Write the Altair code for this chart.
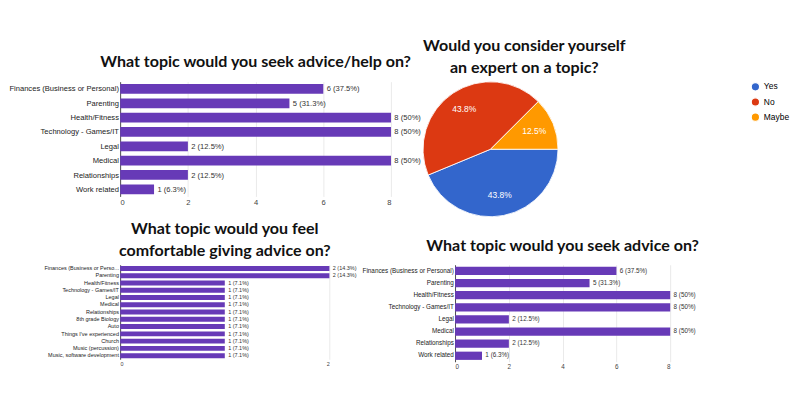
import altair as alt
import pandas as pd

purple = "#673AB7"
FONT = "Lato"

cat1 = ["Finances (Business or Personal)", "Parenting", "Health/Fitness", "Technology - Games/IT",
        "Legal", "Medical", "Relationships", "Work related"]
val1 = [6, 5, 8, 8, 2, 8, 2, 1]
pct1 = ["37.5%", "31.3%", "50%", "50%", "12.5%", "50%", "12.5%", "6.3%"]

cat2 = ["Finances (Business or Perso...", "Parenting", "Health/Fitness", "Technology - Games/IT", "Legal",
        "Medical", "Relationships", "8th grade Biology", "Auto", "Things I've experienced", "Church",
        "Music (percussion)", "Music, software development"]
val2 = [2, 2, 1, 1, 1, 1, 1, 1, 1, 1, 1, 1, 1]
pct2 = ["14.3%", "14.3%"] + ["7.1%"] * 11

pie_cat = ["Yes", "No", "Maybe"]
pie_val = [43.8, 43.8, 12.5]
pie_lbl = ["43.8%", "43.8%", "12.5%"]
pie_col = ["#3366CC", "#DC3912", "#FF9900"]


def bars(cats, vals, pcts, w, h, title, fs, ticks, xmax, tfs, offset=8):
    df = pd.DataFrame({"cat": cats, "v": vals,
                       "lab": [f"{v} ({p})" for v, p in zip(vals, pcts)]})
    base = alt.Chart(df).encode(
        y=alt.Y("cat:N", sort=cats, title=None,
                axis=alt.Axis(labelFontSize=fs, labelColor="#222", ticks=False, domain=True,
                              domainColor="#333", labelLimit=200, labelFont="Liberation Sans")),
        x=alt.X("v:Q", title=None, scale=alt.Scale(domain=[0, xmax]),
                axis=alt.Axis(values=ticks, format="d", labelFontSize=fs, labelColor="#444", grid=True,
                              gridColor="#e6e6e6", domain=False, ticks=False,
                              labelFont="Liberation Sans")))
    b = base.mark_bar(color=purple, size=h / len(cats) * 0.68)
    t = base.mark_text(align="left", dx=4, fontSize=fs, color="#333",
                       font="Liberation Sans").encode(text="lab:N")
    return (b + t).properties(width=w, height=h, title=alt.TitleParams(
        title, fontSize=tfs, font=FONT, fontWeight="bold", color="#111", anchor="middle", offset=offset))


c1 = bars(cat1, val1, pct1, 321, 136, "What topic would you seek advice/help on?", 9, [0, 2, 4, 6, 8], 8, 19, 14)
c3 = bars(cat2, val2, pct2, 248, 112, ["What topic would you feel", "comfortable giving advice on?"], 6.5, [0, 1, 2], 2, 19, 6)
c4 = bars(cat1, val1, pct1, 255, 115, "What topic would you seek advice on?", 7.5, [0, 2, 4, 6, 8], 8, 19, 12)

pdf = pd.DataFrame({"cat": pie_cat, "v": pie_val, "lab": pie_lbl, "o": [0, 1, 2]})
pbase = alt.Chart(pdf).encode(
    theta=alt.Theta("v:Q", stack=True, scale=alt.Scale(range=[1.5708, 1.5708 + 6.2832])),
    order=alt.Order("o:Q"))
arc = pbase.mark_arc(outerRadius=80, stroke="white", strokeWidth=1).encode(
    color=alt.Color("cat:N", sort=pie_cat, scale=alt.Scale(domain=pie_cat, range=pie_col),
                    legend=alt.Legend(title=None, orient="right", symbolType="circle",
                                      labelFontSize=10, labelFont="Liberation Sans", offset=60)))
ptxt = pbase.mark_text(radius=56, color="white", fontSize=10, font="Liberation Sans").encode(text="lab:N")
c2 = (arc + ptxt).properties(width=160, height=160, title=alt.TitleParams(
    ["Would you consider yourself", "an expert on a topic?"], fontSize=19, font=FONT,
    fontWeight="bold", color="#111", anchor="middle", dx=40, offset=4))

chart = alt.vconcat(
    alt.hconcat(c1, c2, spacing=0),
    alt.hconcat(c3, c4, spacing=5),
    spacing=4
).configure_view(stroke=None).configure_title(lineHeight=26).properties(background="white", padding=0)

chart.save("out.html", embed_options={"renderer": "svg", "actions": False})
